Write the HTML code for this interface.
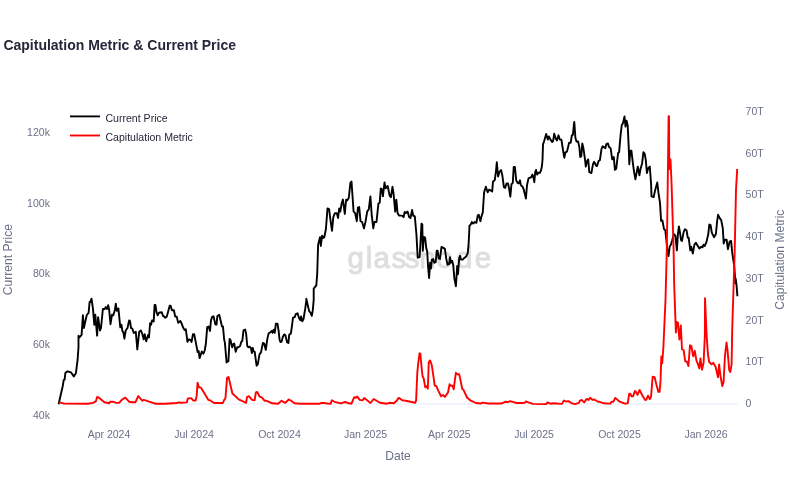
<!DOCTYPE html>
<html><head><meta charset="utf-8"><title>Capitulation Metric &amp; Current Price</title>
<style>
html,body{margin:0;padding:0;background:#fff;}
body{width:790px;height:500px;overflow:hidden;}
svg{display:block;font-family:"Liberation Sans",Arial,Helvetica,sans-serif;}
.tk{font-size:10.5px;fill:#6a7088;}
.lg{font-size:10.55px;fill:#25273a;}
.ax{font-size:12.1px;fill:#6a7088;}
</style></head><body>
<svg width="790" height="500" viewBox="0 0 790 500">
<rect width="790" height="500" fill="#fff"/>
<text x="3.4" y="49.9" font-size="14" font-weight="bold" fill="#25273a">Capitulation Metric &amp; Current Price</text>
<text x="347.6 365.8 373.6 391.5 404.7 419.3 436.3 455.9 474.8" y="267.8" font-size="29.5" fill="#dedede" stroke="#dedede" stroke-width="0.9">glassnode</text>
<line x1="58" x2="737.5" y1="403.9" y2="403.9" stroke="#edf1f8" stroke-width="1.5"/>
<path d="M58.6,404.2 L62.7,386.2 L63.7,380.2 L64.6,379.7 L65.4,372.9 L67.7,371.3 L70.9,372.3 L73.8,376.4 L75.9,373.3 L77.6,359.7 L78.5,347.0 L78.5,335.8 L79.4,337.5 L81.6,334.9 L82.9,315.3 L83.9,328.0 L86.7,315.3 L88.6,312.8 L89.6,302.0 L90.5,302.0 L91.5,298.6 L93.0,309.0 L94.3,324.8 L95.3,314.7 L97.1,335.6 L98.1,317.2 L100.0,330.5 L101.0,328.0 L102.9,309.0 L104.7,309.0 L105.7,307.1 L107.0,309.0 L108.2,305.2 L109.2,310.3 L110.5,324.2 L112.0,314.7 L113.3,315.3 L114.8,310.3 L115.8,303.7 L116.8,310.9 L118.4,308.4 L120.3,327.3 L121.5,324.8 L122.4,331.1 L123.4,332.4 L124.4,338.7 L125.7,330.5 L127.5,328.0 L129.1,320.4 L130.0,321.0 L131.0,328.0 L132.3,328.6 L133.8,333.0 L135.8,331.8 L137.3,349.5 L139.2,331.8 L140.9,330.5 L142.4,334.3 L143.7,339.4 L144.7,334.3 L146.2,341.3 L148.1,334.9 L149.0,337.5 L150.1,323.2 L151.1,324.8 L152.0,320.4 L153.7,321.4 L154.6,304.9 L155.4,304.9 L156.5,312.2 L157.7,315.3 L159.0,312.8 L160.3,312.5 L161.8,312.2 L163.0,315.9 L164.3,316.6 L165.3,317.8 L166.8,316.6 L168.5,310.3 L169.7,305.8 L170.6,305.8 L171.9,310.3 L173.9,310.3 L175.2,316.6 L176.7,316.6 L178.2,322.9 L180.3,321.0 L181.5,323.2 L183.0,327.3 L184.6,329.9 L185.8,329.2 L187.5,341.9 L188.7,339.4 L190.4,340.0 L191.6,341.9 L192.9,334.3 L194.2,334.3 L195.7,341.9 L197.6,352.0 L198.7,351.1 L199.6,358.1 L200.9,354.3 L201.8,351.5 L203.4,353.7 L204.7,350.5 L205.9,343.5 L207.2,327.1 L208.5,326.5 L210.0,330.9 L211.0,320.1 L212.3,316.6 L213.5,316.3 L215.4,324.6 L216.5,324.6 L217.3,316.3 L219.2,314.8 L220.5,320.1 L222.0,326.5 L223.0,326.5 L224.1,339.1 L224.9,342.9 L226.6,362.5 L227.5,361.3 L228.4,361.3 L229.6,338.9 L230.6,340.4 L232.2,347.3 L233.2,344.2 L234.2,343.5 L235.7,351.8 L237.2,347.3 L238.5,347.3 L240.1,346.1 L241.4,341.6 L242.3,341.0 L243.5,330.3 L245.2,329.6 L246.1,333.4 L247.3,346.1 L248.4,347.3 L249.6,346.7 L250.9,348.0 L251.9,353.0 L252.8,348.0 L253.4,351.1 L254.7,351.8 L255.9,360.6 L256.6,365.7 L257.8,364.4 L259.5,354.3 L261.0,352.4 L262.9,342.9 L264.2,343.5 L265.8,349.9 L267.3,339.1 L268.6,333.4 L270.1,332.5 L271.8,330.9 L272.7,332.8 L273.7,329.6 L274.7,332.8 L275.9,323.7 L277.5,323.7 L278.7,331.5 L279.5,339.2 L280.4,342.0 L281.6,341.5 L282.9,336.7 L284.2,334.4 L285.4,335.2 L287.1,342.4 L288.4,343.0 L289.2,334.8 L290.9,333.5 L292.2,324.1 L293.0,317.7 L294.7,317.1 L295.9,313.9 L297.6,313.3 L298.9,317.7 L300.4,320.3 L301.0,316.5 L302.3,321.3 L303.5,319.0 L305.2,308.9 L306.3,300.6 L306.3,298.8 L308.0,306.3 L309.2,311.4 L310.5,312.7 L311.8,315.8 L312.8,310.1 L313.7,300.0 L313.7,300.7 L313.7,288.7 L316.3,285.3 L317.2,274.1 L318.1,245.0 L318.4,243.6 L320.0,237.2 L320.8,246.0 L322.1,235.6 L323.2,238.0 L324.3,237.2 L325.9,229.2 L327.5,208.4 L329.1,209.2 L330.4,219.6 L332.0,230.8 L333.3,217.2 L334.9,213.2 L336.8,213.2 L338.1,218.0 L339.2,208.4 L340.3,211.6 L341.6,203.6 L342.9,199.6 L344.8,214.0 L346.1,199.6 L347.2,200.4 L348.8,198.0 L350.4,182.8 L351.5,181.5 L353.6,211.6 L355.2,213.2 L356.8,221.2 L357.9,207.6 L359.2,207.1 L360.5,221.2 L362.1,222.0 L364.0,228.4 L365.6,221.2 L367.2,211.6 L368.8,209.2 L370.4,196.4 L371.7,214.8 L373.3,228.4 L374.4,222.0 L376.5,222.0 L378.4,203.6 L379.7,202.8 L380.8,188.4 L381.9,189.2 L382.9,196.4 L384.5,182.5 L385.6,188.4 L387.7,186.0 L389.6,195.6 L390.9,197.2 L392.5,186.8 L393.6,194.0 L395.2,211.6 L396.3,199.6 L397.6,213.2 L399.2,215.6 L400.4,215.6 L402.0,215.6 L403.6,217.2 L404.7,211.9 L406.0,212.9 L407.6,211.6 L409.2,217.2 L410.5,218.0 L412.1,210.0 L413.2,215.6 L414.8,216.4 L416.4,234.0 L417.7,257.7 L419.6,257.1 L420.6,240.7 L421.5,223.6 L422.3,224.4 L422.8,250.8 L423.8,236.9 L425.1,237.5 L426.3,248.3 L427.2,251.4 L428.1,267.2 L429.1,278.0 L430.1,262.8 L431.0,268.5 L431.9,259.6 L433.2,259.0 L434.2,262.8 L435.7,262.2 L436.7,250.8 L437.7,250.8 L438.6,258.4 L439.9,259.0 L441.5,247.0 L443.0,247.6 L444.9,248.9 L446.2,258.4 L447.5,264.7 L449.1,264.1 L450.0,257.1 L450.9,262.8 L452.2,260.9 L453.2,264.7 L454.4,278.6 L455.9,286.2 L457.2,266.0 L458.0,274.2 L459.2,258.4 L460.1,255.8 L461.0,259.6 L462.7,259.6 L464.6,257.7 L466.1,256.5 L467.7,253.3 L468.6,244.5 L469.4,228.0 L469.4,226.0 L470.8,224.4 L471.9,222.0 L473.2,223.6 L474.8,222.0 L476.4,222.8 L477.7,215.6 L478.8,214.8 L480.4,221.2 L481.5,216.4 L482.8,212.4 L484.1,192.4 L485.7,187.3 L485.8,186.8 L487.7,192.3 L489.0,189.7 L490.5,190.4 L492.2,191.4 L493.0,181.5 L494.7,180.3 L495.9,172.0 L496.8,162.3 L498.1,176.5 L499.4,172.0 L501.0,170.1 L502.3,175.2 L503.9,187.2 L505.2,187.8 L506.5,183.4 L508.0,183.4 L509.2,189.1 L510.3,196.7 L511.5,184.1 L512.8,182.8 L513.7,167.0 L514.9,167.0 L516.2,180.3 L517.5,182.8 L518.7,183.4 L520.0,180.3 L520.9,185.3 L522.5,186.6 L523.8,189.7 L525.9,198.6 L527.0,185.3 L528.5,178.4 L530.1,177.7 L531.4,177.1 L532.3,174.6 L533.3,176.5 L534.3,182.2 L535.2,172.0 L536.1,169.9 L537.1,174.6 L538.4,172.7 L539.9,172.7 L540.9,170.8 L541.9,166.3 L542.5,160.0 L543.0,144.4 L544.1,141.2 L546.2,134.0 L547.8,139.6 L548.9,136.4 L550.5,139.6 L552.1,142.0 L553.1,141.2 L554.2,133.7 L555.8,138.8 L556.9,140.4 L558.5,135.3 L559.8,139.6 L561.4,139.6 L563.0,150.0 L564.3,157.7 L565.4,152.4 L567.0,151.6 L569.1,142.8 L570.7,142.8 L571.8,135.6 L572.9,134.8 L574.0,123.6 L574.3,122.0 L575.4,137.8 L576.5,141.5 L578.1,141.5 L579.4,147.4 L580.2,157.0 L581.3,156.2 L582.3,143.4 L583.4,148.2 L585.0,159.4 L585.8,166.6 L587.1,161.0 L588.2,159.4 L589.3,172.2 L591.4,173.0 L593.0,164.2 L594.1,161.8 L596.2,165.8 L597.0,166.1 L598.6,161.0 L599.9,160.2 L601.5,149.0 L602.6,146.3 L604.2,147.4 L605.3,148.2 L606.3,144.2 L607.9,143.4 L609.0,146.9 L610.6,148.2 L612.2,159.4 L613.8,157.0 L614.9,169.8 L616.2,169.0 L618.1,153.0 L619.1,152.2 L620.7,133.8 L621.8,125.0 L622.9,123.4 L624.5,116.5 L625.5,126.6 L626.6,120.7 L627.7,125.8 L628.7,146.6 L629.3,164.2 L630.3,150.6 L631.4,150.6 L633.0,164.2 L634.1,172.2 L635.4,179.4 L636.7,172.2 L637.8,166.6 L639.4,175.4 L640.5,169.0 L642.1,163.4 L643.4,152.2 L644.7,153.8 L645.8,160.2 L646.9,173.0 L648.2,168.2 L649.8,166.6 L651.1,184.2 L651.5,196.4 L653.6,197.2 L655.2,190.0 L657.3,182.5 L658.4,192.4 L660.0,202.8 L661.1,220.9 L662.4,220.4 L664.0,229.2 L665.3,230.0 L666.4,240.4 L667.5,251.7 L668.5,256.1 L669.7,246.6 L670.9,244.7 L672.2,240.3 L673.9,234.0 L675.4,235.9 L676.9,250.4 L677.9,234.0 L678.9,226.4 L679.8,231.5 L681.1,240.3 L682.0,240.9 L683.6,232.1 L684.9,229.2 L686.5,230.2 L687.8,237.8 L688.7,237.8 L690.3,250.4 L691.2,246.6 L692.8,253.6 L694.4,244.7 L695.9,242.8 L697.5,245.4 L699.4,248.5 L701.3,246.6 L702.6,247.3 L703.5,244.7 L704.7,246.0 L706.4,242.2 L708.3,234.0 L709.3,224.5 L710.6,225.1 L711.8,232.7 L714.0,237.2 L715.9,234.0 L717.2,220.7 L718.1,214.8 L719.7,218.2 L721.2,220.1 L722.8,228.3 L723.7,243.5 L724.7,239.7 L726.6,239.7 L727.9,249.2 L729.6,241.6 L731.1,240.9 L732.1,251.7 L733.0,258.0 L734.2,265.6 L735.1,278.0 L735.1,283.0 L735.6,278.5 L736.6,286.0 L737.4,296.2" fill="none" stroke="#000" stroke-width="1.9" stroke-linejoin="round" stroke-linecap="butt"/>
<path d="M58.9,402.2 L63.9,403.6 L88.0,403.7 L93.0,402.9 L95.8,401.4 L97.1,397.0 L98.7,397.6 L104.4,402.3 L109.2,403.3 L110.1,401.7 L112.7,401.7 L115.8,402.7 L119.0,402.9 L122.2,399.5 L125.3,397.6 L129.1,401.7 L132.3,402.3 L135.4,402.3 L138.2,396.1 L142.4,400.8 L142.4,400.8 L143.8,399.9 L147.6,401.1 L155.2,403.7 L165.3,403.7 L176.7,403.0 L178.6,402.4 L180.5,402.8 L186.8,402.4 L187.8,398.4 L191.3,398.2 L193.2,400.5 L195.7,400.5 L196.7,395.4 L197.6,382.8 L198.9,387.2 L200.8,387.6 L203.3,391.6 L208.4,399.9 L210.3,400.5 L214.1,403.0 L222.9,403.0 L224.2,399.9 L225.4,398.6 L227.1,377.7 L228.6,377.1 L229.9,382.8 L232.4,393.5 L239.4,399.9 L241.3,400.5 L246.1,402.8 L247.0,397.0 L248.9,396.1 L252.1,399.9 L254.6,400.3 L255.9,392.3 L257.2,391.9 L259.7,396.7 L261.8,397.3 L264.7,400.8 L266.6,400.8 L272.3,403.3 L278.0,403.7 L281.6,400.8 L283.1,401.8 L285.4,402.8 L288.8,399.5 L290.7,400.5 L294.5,403.3 L300.8,403.7 L319.8,403.8 L321.1,403.0 L323.6,403.0 L330.6,403.9 L331.8,400.3 L334.4,401.8 L340.8,403.3 L345.2,402.0 L349.0,403.3 L351.5,403.7 L354.1,397.3 L355.9,397.7 L357.2,396.5 L359.7,399.9 L362.7,400.3 L364.2,398.0 L366.1,399.5 L370.5,403.0 L373.7,399.0 L376.2,400.5 L380.0,402.8 L387.0,403.7 L389.5,402.8 L393.9,403.3 L397.1,400.3 L398.4,398.0 L399.6,398.2 L402.2,400.3 L405.9,400.8 L415.1,402.8 L416.1,400.5 L417.3,372.7 L418.3,362.7 L419.6,353.2 L420.4,353.9 L421.5,366.5 L422.5,376.0 L423.7,378.5 L425.3,387.4 L426.5,386.1 L427.8,388.7 L428.8,362.1 L430.1,360.4 L431.8,365.3 L433.5,376.6 L434.7,385.5 L436.4,386.1 L438.2,390.6 L441.1,396.3 L443.0,395.0 L444.9,396.9 L448.0,392.5 L449.6,384.2 L450.8,385.8 L452.5,385.8 L453.7,389.3 L455.0,379.2 L455.9,372.8 L457.5,374.4 L459.2,374.1 L460.7,381.1 L462.2,388.7 L463.5,389.9 L467.0,397.5 L470.8,400.7 L475.9,403.0 L480.9,403.5 L482.5,402.6 L488.5,403.5 L501.2,403.5 L503.7,402.6 L505.1,401.8 L508.2,402.0 L510.1,401.1 L512.7,401.8 L516.5,403.0 L521.5,403.0 L524.7,402.8 L525.9,401.5 L528.5,402.4 L532.9,403.9 L546.2,404.1 L547.5,402.4 L550.6,403.7 L553.2,403.3 L562.0,403.9 L563.9,400.5 L565.8,401.5 L568.4,401.1 L570.9,402.8 L574.7,404.1 L579.1,402.8 L579.7,400.8 L581.6,399.9 L584.2,402.4 L586.1,399.5 L587.3,399.0 L588.6,399.9 L590.1,397.7 L592.4,399.9 L594.3,399.5 L598.1,401.8 L598.9,401.7 L603.9,403.3 L610.3,403.6 L611.8,401.7 L613.4,401.7 L615.3,397.9 L619.7,401.7 L624.8,403.6 L627.7,403.3 L629.2,393.8 L630.3,393.6 L631.5,396.4 L633.0,396.4 L634.9,391.1 L635.8,391.6 L637.5,394.8 L639.6,390.0 L642.5,395.7 L645.1,399.9 L646.3,399.9 L648.0,395.7 L649.7,399.2 L651.0,397.0 L652.7,376.7 L654.6,377.1 L656.5,385.0 L658.4,391.9 L659.6,391.9 L660.6,379.9 L661.3,356.5 L662.2,363.5 L663.4,347.0 L665.5,300.0 L666.8,250.0 L667.8,180.0 L668.6,116.2 L669.0,116.2 L669.3,169.0 L670.5,159.4 L671.6,184.7 L673.6,249.7 L674.2,285.0 L675.9,332.5 L676.9,322.0 L678.0,322.7 L679.4,339.5 L680.8,325.5 L682.0,349.2 L683.6,350.0 L685.2,361.2 L687.1,362.0 L688.4,366.0 L690.0,345.2 L691.3,346.0 L693.2,356.4 L694.8,350.8 L696.4,360.4 L698.0,364.4 L699.3,368.4 L700.4,358.5 L702.0,369.7 L703.6,362.8 L704.9,334.8 L705.0,298.2 L706.6,334.8 L707.9,354.0 L709.2,362.0 L711.6,364.4 L713.2,362.8 L715.6,366.8 L718.0,377.2 L719.1,364.4 L720.4,375.6 L722.3,386.0 L723.6,382.0 L724.9,356.4 L726.5,342.5 L727.6,350.8 L729.2,370.0 L730.3,371.9 L731.6,364.4 L732.2,330.0 L733.3,295.0 L734.6,255.0 L736.0,190.0 L737.2,169.0" fill="none" stroke="#ff0000" stroke-width="1.9" stroke-linejoin="round" stroke-linecap="butt"/>
<line x1="70" x2="100" y1="116.4" y2="116.4" stroke="#000" stroke-width="1.85"/>
<line x1="70" x2="100" y1="135.5" y2="135.5" stroke="#ff0000" stroke-width="1.85"/>
<text class="lg" x="105.5" y="121.9">Current Price</text>
<text class="lg" x="105.5" y="141.1">Capitulation Metric</text>
<text class="tk" x="109" y="437.8" text-anchor="middle">Apr 2024</text>
<text class="tk" x="194" y="437.8" text-anchor="middle">Jul 2024</text>
<text class="tk" x="279.5" y="437.8" text-anchor="middle">Oct 2024</text>
<text class="tk" x="365.5" y="437.8" text-anchor="middle">Jan 2025</text>
<text class="tk" x="449.4" y="437.8" text-anchor="middle">Apr 2025</text>
<text class="tk" x="534" y="437.8" text-anchor="middle">Jul 2025</text>
<text class="tk" x="619.5" y="437.8" text-anchor="middle">Oct 2025</text>
<text class="tk" x="706" y="437.8" text-anchor="middle">Jan 2026</text>
<text class="tk" x="49.9" y="135.6" text-anchor="end">120k</text>
<text class="tk" x="49.9" y="206.6" text-anchor="end">100k</text>
<text class="tk" x="49.9" y="276.8" text-anchor="end">80k</text>
<text class="tk" x="49.9" y="347.9" text-anchor="end">60k</text>
<text class="tk" x="49.9" y="418.9" text-anchor="end">40k</text>
<text class="tk" x="745.6" y="114.7">70T</text>
<text class="tk" x="745.6" y="156.5">60T</text>
<text class="tk" x="745.6" y="198.2">50T</text>
<text class="tk" x="745.6" y="240.0">40T</text>
<text class="tk" x="745.6" y="281.7">30T</text>
<text class="tk" x="745.6" y="323.5">20T</text>
<text class="tk" x="745.6" y="365.2">10T</text>
<text class="tk" x="745.6" y="407.0">0</text>
<text class="ax" x="398" y="459.7" text-anchor="middle">Date</text>
<text class="ax" transform="translate(12,259.6) rotate(-90)" text-anchor="middle">Current Price</text>
<text class="ax" transform="translate(784.3,259.7) rotate(-90)" text-anchor="middle">Capitulation Metric</text>
</svg></body></html>
